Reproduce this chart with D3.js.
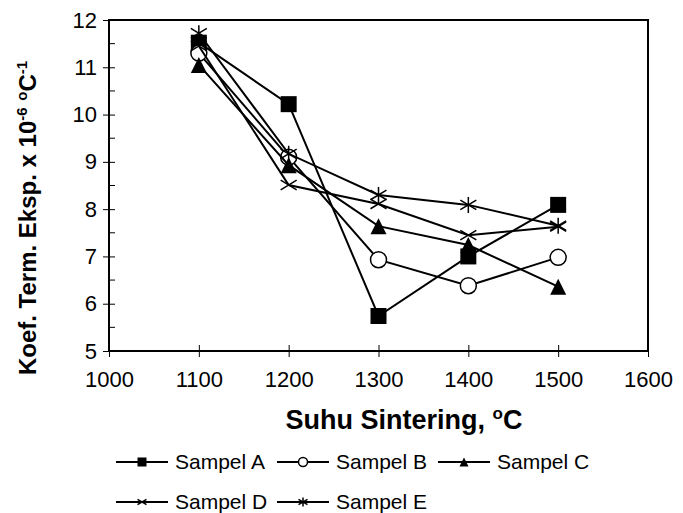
<!DOCTYPE html>
<html>
<head>
<meta charset="utf-8">
<script src="https://cdn.jsdelivr.net/npm/d3@7"></script>
<style>
  body { margin: 0; background: #fff; }
  svg text { font-family: Arial, "Liberation Sans", sans-serif; fill: #000; }
</style>
</head>
<body>
<svg width="683" height="513"></svg>
<script>
// data
var temps = [1100, 1200, 1300, 1400, 1500];
var sampelA = [11.52, 10.22, 5.74, 7.00, 8.09];
var sampelB = [11.30, 9.10, 6.93, 6.38, 6.98];
var sampelC = [11.05, 8.93, 7.64, 7.24, 6.36];
var sampelD = [11.45, 8.51, 8.11, 7.45, 7.63];
var sampelE = [11.72, 9.17, 8.30, 8.09, 7.65];
var seriesNames = ['Sampel A', 'Sampel B', 'Sampel C', 'Sampel D', 'Sampel E'];
var markerTypes = ['square', 'circle', 'triangle', 'cross', 'star'];
var xTicks = [1000, 1100, 1200, 1300, 1400, 1500, 1600];
var yTicks = [5, 6, 7, 8, 9, 10, 11, 12];

var allSeries = [sampelA, sampelB, sampelC, sampelD, sampelE];

// set up chart area
var margin = { top: 20, right: 35, bottom: 162, left: 109 };
var svg = d3.select('svg');
var width = +svg.attr('width') - margin.left - margin.right;
var height = +svg.attr('height') - margin.top - margin.bottom;

var g = svg.append('g')
    .attr('transform', 'translate(' + margin.left + ',' + margin.top + ')');

// scales
var xScale = d3.scaleLinear().domain([1000, 1600]).range([0, width]);
var yScale = d3.scaleLinear().domain([5, 12]).range([height, 0]);

// frame
g.append('rect')
    .attr('x', 0)
    .attr('y', 0)
    .attr('width', width)
    .attr('height', height)
    .attr('fill', 'none')
    .attr('stroke', '#000')
    .attr('stroke-width', 2);

// x axis, ticks cross the line
var xAxis = g.append('g')
    .attr('transform', 'translate(0,' + height + ')')
    .call(d3.axisBottom(xScale).tickValues(xTicks).tickSize(6).tickPadding(14).tickFormat(d3.format('d')));
xAxis.select('.domain').remove();
xAxis.selectAll('.tick line').attr('y1', -6).attr('stroke', '#000');
xAxis.selectAll('.tick text').style('font-size', '22px').attr('fill', '#000');

// y axis
var yAxis = g.append('g')
    .call(d3.axisLeft(yScale).tickValues(yTicks).tickSize(6).tickPadding(6).tickFormat(d3.format('d')));
yAxis.select('.domain').remove();
yAxis.selectAll('.tick line').attr('x1', 6).attr('x2', -6).attr('stroke', '#000');
yAxis.selectAll('.tick text').style('font-size', '22px').attr('fill', '#000');

// minor y ticks on the inside
g.append('g')
    .selectAll('line')
    .data(d3.range(5.5, 12, 1))
    .enter().append('line')
    .attr('x1', 0)
    .attr('x2', 6)
    .attr('y1', function(d) { return yScale(d); })
    .attr('y2', function(d) { return yScale(d); })
    .attr('stroke', '#000');

// redraw the left and bottom edge on top of ticks
g.append('line')
    .attr('x1', 0).attr('x2', 0).attr('y1', 0).attr('y2', height)
    .attr('stroke', '#000').attr('stroke-width', 2);
g.append('line')
    .attr('x1', 0).attr('x2', width).attr('y1', height).attr('y2', height)
    .attr('stroke', '#000').attr('stroke-width', 2);

// marker drawing
function drawMarker(sel, type, size) {
    var h = size / 2;
    if (type === 'square') {
        sel.append('rect')
            .attr('x', -h).attr('y', -h).attr('width', size).attr('height', size)
            .attr('fill', '#000');
    } else if (type === 'circle') {
        sel.append('circle')
            .attr('r', h)
            .attr('fill', '#fff')
            .attr('stroke', '#000')
            .attr('stroke-width', 1.5);
    } else if (type === 'triangle') {
        sel.append('path')
            .attr('d', 'M0,' + (-h) + 'L' + h + ',' + h + 'L' + (-h) + ',' + h + 'Z')
            .attr('fill', '#000');
    } else if (type === 'cross') {
        sel.append('path')
            .attr('d', 'M' + (-h) + ',' + (-h * 0.6) + 'L' + h + ',' + (h * 0.6) +
                       'M' + (-h) + ',' + (h * 0.6) + 'L' + h + ',' + (-h * 0.6))
            .attr('stroke', '#000')
            .attr('stroke-width', 1.5)
            .attr('fill', 'none');
    } else if (type === 'star') {
        sel.append('path')
            .attr('d', 'M' + (-h) + ',' + (-h * 0.6) + 'L' + h + ',' + (h * 0.6) +
                       'M' + (-h) + ',' + (h * 0.6) + 'L' + h + ',' + (-h * 0.6) +
                       'M0,' + (-h) + 'L0,' + h)
            .attr('stroke', '#000')
            .attr('stroke-width', 1.5)
            .attr('fill', 'none');
    }
}

// line interpolater
var line = d3.line()
    .x(function(d, i) { return xScale(temps[i]); })
    .y(function(d) { return yScale(d); });

// draw each series: line then markers
allSeries.forEach(function(values, s) {
    var sg = g.append('g');
    sg.append('path')
        .datum(values)
        .attr('fill', 'none')
        .attr('stroke', '#000')
        .attr('stroke-width', 2)
        .attr('d', line);

    sg.selectAll('.marker')
        .data(values)
        .enter().append('g')
        .attr('class', 'marker')
        .attr('transform', function(d, i) {
            return 'translate(' + xScale(temps[i]) + ',' + yScale(d) + ')';
        })
        .each(function() { drawMarker(d3.select(this), markerTypes[s], 16); });
});

// x axis title
var xTitle = svg.append('text')
    .attr('x', 404)
    .attr('y', 429)
    .attr('text-anchor', 'middle')
    .style('font-size', '27px')
    .style('font-weight', 'bold');
xTitle.append('tspan').text('Suhu Sintering, ');
xTitle.append('tspan').attr('dy', -10).style('font-size', '17px').text('o');
xTitle.append('tspan').attr('dy', 10).text('C');

// y axis title
var yTitle = svg.append('text')
    .attr('transform', 'translate(36,218) rotate(-90)')
    .attr('text-anchor', 'middle')
    .style('font-size', '24px')
    .style('font-weight', 'bold');
yTitle.append('tspan').text('Koef. Term. Eksp. x 10');
yTitle.append('tspan').attr('dy', -9).style('font-size', '15px').text('-6');
yTitle.append('tspan').attr('dy', 9).text(' ');
yTitle.append('tspan').attr('dy', -9).style('font-size', '15px').text('o');
yTitle.append('tspan').attr('dy', 9).text('C');
yTitle.append('tspan').attr('dy', -9).style('font-size', '15px').text('-1');

// legend
var legendPos = [
    { x: 116, y: 462 }, { x: 277, y: 462 }, { x: 438, y: 462 },
    { x: 116, y: 502 }, { x: 277, y: 502 }
];
var legend = svg.append('g')
    .selectAll('g')
    .data(seriesNames)
    .enter().append('g')
    .attr('transform', function(d, i) {
        return 'translate(' + legendPos[i].x + ',' + legendPos[i].y + ')';
    });

legend.append('line')
    .attr('x1', 0)
    .attr('x2', 52)
    .attr('stroke', '#000')
    .attr('stroke-width', 2);

legend.append('g')
    .attr('transform', 'translate(26,0)')
    .each(function(d, i) { drawMarker(d3.select(this), markerTypes[i], 9); });

legend.append('text')
    .attr('x', 59)
    .attr('dy', '0.35em')
    .style('font-size', '21px')
    .text(function(d) { return d; });
</script>
</body>
</html>
